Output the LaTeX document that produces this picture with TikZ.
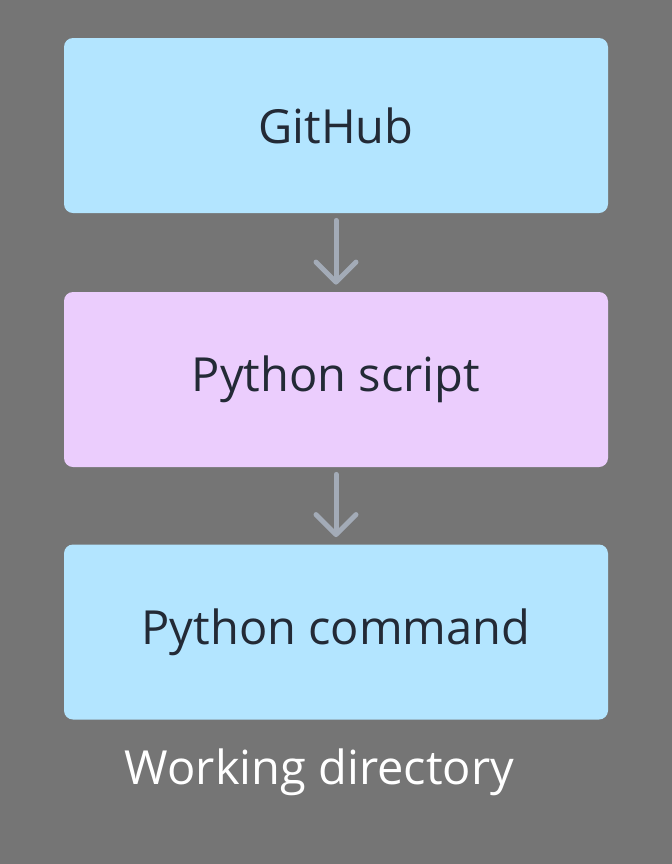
\documentclass[tikz,border=0pt]{standalone}
\usepackage{fontspec}
\setmainfont{Open Sans}
\usetikzlibrary{arrows.meta}
\definecolor{bg}{HTML}{757575}
\definecolor{lblue}{HTML}{B3E5FF}
\definecolor{lpink}{HTML}{EBCDFD}
\definecolor{ink}{HTML}{232A36}
\definecolor{arr}{HTML}{A3ABB7}

\begin{document}
\begin{tikzpicture}[x=0.5pt,y=-0.5pt]
			\tikzstyle{n} = [rounded corners=4.5pt, minimum width=272pt, minimum height=87.5pt, text=ink, font=\fontsize{23.5}{28}\selectfont]
			\path [use as bounding box] (0,0) rectangle (672,864);
			\fill [bg] (0,0) rectangle (672,864);

			\node [n,fill=lblue] (gh) at (336,125.5) {GitHub};
			\node [n,fill=lpink] (ps) at (336,379.5) {Python script};
			\node [n,fill=lblue] (pc) at (336,632) {Python command};

			\node [text=white, font=\fontsize{23.5}{28}\selectfont] (wd) at (319.5,772) {Working directory};

			\tikzstyle{a} = [arr, line width=2.5pt, line cap=round, shorten <=3.5pt, shorten >=3.5pt, -{Straight Barb[length=10pt,width=20pt,line cap=round,line join=round]}]
			\draw[a] (gh)-- (ps);
			\draw[a] (ps)-- (pc);

		\end{tikzpicture}
\end{document}
